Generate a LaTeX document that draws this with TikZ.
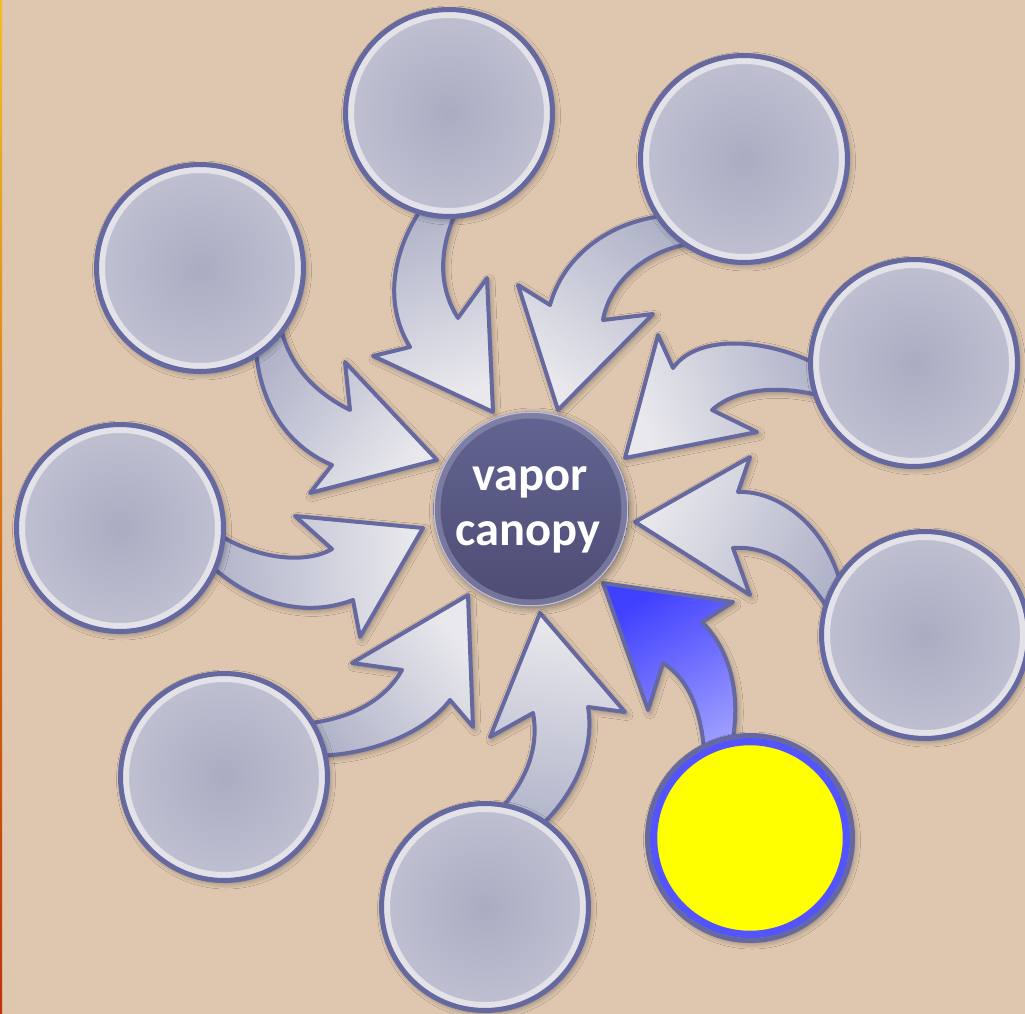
\documentclass[tikz,border=0pt]{standalone}
\usepackage{fontspec}
\newfontfamily\carlito{Carlito}
\usetikzlibrary{shadows.blur}
\definecolor{bg}{RGB}{223,199,175}
\definecolor{bord}{RGB}{102,104,160}
\definecolor{arrL}{RGB}{233,233,237}
\definecolor{arrD}{RGB}{176,178,200}
\definecolor{bubC}{RGB}{170,172,194}
\definecolor{bubM}{RGB}{194,195,211}
\definecolor{bubE}{RGB}{214,214,224}
\definecolor{rim}{RGB}{226,226,232}
\definecolor{blueA}{RGB}{64,64,255}
\definecolor{blueB}{RGB}{164,164,255}
\definecolor{ring}{RGB}{84,84,255}
\definecolor{sunY}{RGB}{255,255,0}
\definecolor{ctrT}{RGB}{100,100,146}
\definecolor{ctrB}{RGB}{76,76,116}
\definecolor{ctrRim}{RGB}{150,150,185}
\pgfdeclareradialshading{bubble}{\pgfpoint{0bp}{0bp}}{color(0bp)=(bubC); color(28bp)=(bubM); color(50bp)=(bubE)}
\tikzset{
  softshadow/.style={blur shadow={shadow blur radius=6pt, shadow xshift=2pt, shadow yshift=-2.5pt, shadow opacity=40, shadow blur steps=6}},
  arr/.style={draw=bord, line width=4pt, line join=round, softshadow},
  gray arrow/.style={arr, top color=arrL, bottom color=arrD, shading angle=#1},
  blue arrow/.style={arr, top color=blueA, bottom color=blueB, shading angle=#1},
  bub/.style={circle, draw=bord, line width=5pt, minimum size=207pt, inner sep=0pt, shade, shading=bubble, softshadow,
    path picture={\draw[rim, line width=6pt] (path picture bounding box.center) circle[radius=98pt];}},
  sun/.style={circle, draw=bord, line width=5pt, minimum size=205pt, inner sep=0pt, fill=sunY, softshadow,
    path picture={\draw[ring, line width=7.5pt] (path picture bounding box.center) circle[radius=96.5pt];}},
  ctr/.style={circle, minimum size=195pt, inner sep=0pt, top color=ctrT, bottom color=ctrB, softshadow,
    path picture={\draw[ctrRim, line width=7pt, opacity=0.55] (path picture bounding box.center) circle[radius=94pt];
                  \draw[ctrRim!60!white, line width=1.5pt] (path picture bounding box.center) circle[radius=97pt];}},
  lbl/.style={text=white, anchor=base, font=\carlito\bfseries\fontsize{48.5}{55}\selectfont, inner sep=0pt}
}
\begin{document}
\begin{tikzpicture}[x=1pt, y=-1pt]
\useasboundingbox (0,0) rectangle (1025,1014);
\fill[bg] (0,0) rectangle (1025,1014);
\shade[top color={rgb,255:red,240;green,190;blue,40}, bottom color={rgb,255:red,190;green,50;blue,10}] (0,0) rectangle (2,1014);

% arrows
\shadedraw[gray arrow=-160] (428,200) .. controls (400,235) and (378,295) .. (410,347) -- (373,356) -- (493,412) -- (487,278) -- (458,318) .. controls (440,290) and (435,250) .. (462,200) -- cycle;
\shadedraw[gray arrow=144] (680,215) .. controls (620,215) and (565,250) .. (550,305) -- (518,285) -- (558,410) -- (653,314) -- (603,320) .. controls (610,280) and (650,245) .. (705,242) -- cycle;
\shadedraw[gray arrow=110] (830,372) .. controls (780,340) and (700,330) .. (673,368) -- (658,335) -- (625,458) -- (757,432) -- (712,410) .. controls (740,385) and (790,385) .. (835,400) -- cycle;
\shadedraw[gray arrow=66] (845,605) .. controls (835,530) and (780,490) .. (738,492) -- (750,457) -- (635,522) -- (750,595) -- (733,548) .. controls (770,545) and (810,570) .. (840,630) -- cycle;
\shadedraw[blue arrow=31] (725,770) .. controls (745,710) and (735,655) .. (702,622) -- (733,602) -- (603,583) -- (648,710) -- (663,663) .. controls (690,680) and (705,715) .. (705,775) -- cycle;
\shadedraw[gray arrow=-9] (525,840) .. controls (575,800) and (595,750) .. (588,707) -- (625,712) -- (540,613) -- (490,737) -- (533,713) .. controls (540,750) and (525,790) .. (480,830) -- cycle;
\shadedraw[gray arrow=-50] (290,725) .. controls (350,722) and (385,700) .. (402,670) -- (352,663) -- (468,595) -- (473,727) -- (450,700) .. controls (420,740) and (350,760) .. (300,755) -- cycle;
\shadedraw[gray arrow=-86] (205,525) .. controls (250,560) and (305,565) .. (332,549) -- (295,516) -- (423,528) -- (360,637) -- (353,600) .. controls (300,620) and (245,600) .. (205,560) -- cycle;
\shadedraw[gray arrow=-129] (255,330) .. controls (255,400) and (285,445) .. (332,465) -- (310,493) -- (437,460) -- (345,362) -- (350,410) .. controls (310,390) and (285,360) .. (278,315) -- cycle;

% circles
\node[bub] (c1) at (449,113) {};
\node[bub] (c2) at (744,159) {};
\node[bub] (c3) at (914,363) {};
\node[bub] (c4) at (925,635) {};
\node[sun] (c5) at (750,838) {};
\node[bub] (c6) at (485,907) {};
\node[bub] (c7) at (224,777) {};
\node[bub] (c8) at (120,528) {};
\node[bub] (c9) at (200,268) {};

% centre
\node[ctr] (vc) at (531,509) {};
\node[lbl] (t1) at (530,490) {vapor};
\node[lbl] (t2) at (528,545) {canopy};
\end{tikzpicture}
\end{document}
